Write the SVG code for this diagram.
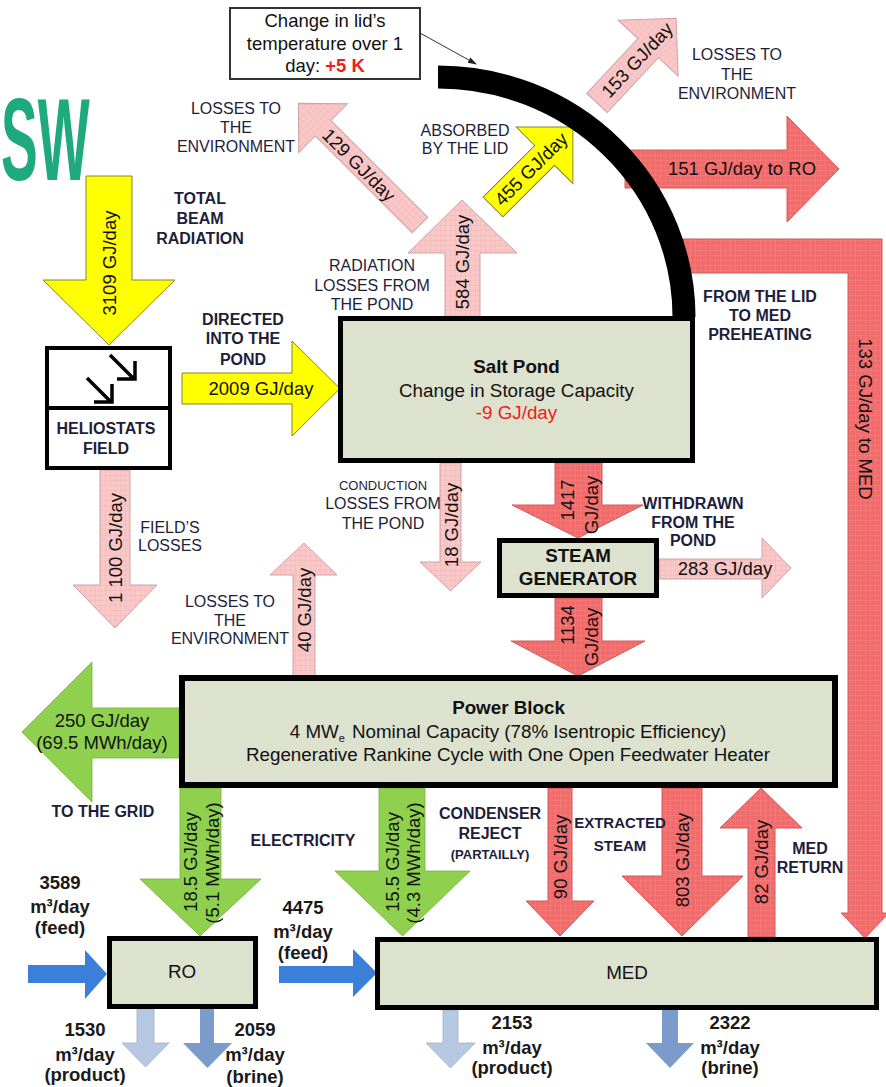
<svg xmlns="http://www.w3.org/2000/svg" width="886" height="1087" viewBox="0 0 886 1087">
<defs>
<style>
text{font-family:"Liberation Sans",Arial,sans-serif}
.pk{fill:url(#pk);stroke:#cfa3a3;stroke-width:1}
.rd{fill:url(#rd);stroke:#d05a5a;stroke-width:1}
.yl{fill:#ffff00;stroke:#85852a;stroke-width:1}
.gr{fill:#8fd14f;stroke:#76ae3e;stroke-width:.8}
.b1{fill:#3a7fd8}
.b2{fill:#b7c8e2;stroke:#9cb0cd;stroke-width:.8}
.b3{fill:#7b9bcb}
.box{fill:#dde2cf;stroke:#000}
.l{font-size:16px;fill:#1e1e3a;text-anchor:middle}
.s13{font-size:13px}
.s15{font-size:15px}
.b{font-weight:bold}
.v{font-size:18.5px;fill:#111;text-anchor:middle}
.nt{font-size:18.8px;fill:#111;text-anchor:middle}
.q{font-size:18.5px;font-weight:bold;fill:#1a1a1a;text-anchor:middle}
.red{fill:#f01c1c}
</style>
<pattern id="pk" width="5" height="5" patternUnits="userSpaceOnUse"><rect width="5" height="5" fill="#f9c8c8"/><path d="M0 .5H5M.5 0V5" stroke="#f4b5b5" stroke-width=".5"/></pattern>
<pattern id="rd" width="5" height="5" patternUnits="userSpaceOnUse"><rect width="5" height="5" fill="#f26b6b"/><path d="M0 .5H5M.5 0V5" stroke="#f58383" stroke-width=".5"/></pattern>
<marker id="ah" markerWidth="9" markerHeight="8" refX="8" refY="4" orient="auto" markerUnits="userSpaceOnUse"><path d="M0,1 L9,4 L0,7 Z" fill="#222"/></marker>
</defs>
<rect width="886" height="1087" fill="#fff"/>
<text transform="translate(1,180) scale(0.47,1)" font-family="Liberation Serif" font-weight="bold" font-size="117" fill="#1faa7d">SW</text>

<g id="connectors">
<line x1="420" y1="33" x2="476" y2="64" stroke="#333" stroke-width="1" marker-end="url(#ah)"/>
<polygon class="yl" points="86,176 132,176 132,280 175,280 109,345 43,280 86,280"/>
<polygon class="pk" points="100,470 130,470 130,585 157,585 115,628 73,585 100,585"/>
<polygon class="yl" points="182,373 292,373 292,341 340,388.5 292,436 292,404 182,404"/>
<polygon class="pk" points="445,318 445,253 408,253 462,200 517,253 480,253 480,318"/>
<polygon class="pk" transform="translate(420,225) rotate(-135)" points="0,-11 137,-11 137,-34.5 172,0 137,34.5 137,11 0,11"/>
<polygon class="yl" transform="translate(493,207) rotate(-45)" points="0,-14 73,-14 73,-40 113,0 73,40 73,14 0,14"/>
<polygon class="pk" transform="translate(597,103) rotate(-47)" points="0,-14 75,-14 75,-41 116,0 75,41 75,14 0,14"/>
<polygon class="rd" points="625,150 787,150 787,116 839,169 787,222 787,188 625,188"/>
<polygon class="rd" points="676,239 882,239 882,913 889,913 865,938 841,913 848,913 848,273 676,273"/>
<polygon class="pk" points="440,463 461,463 461,562 481,562 450.5,591 420,562 440,562"/>
<polygon class="rd" points="555,463 602,463 602,505 643,505 578,538 512,505 555,505"/>
<polygon class="pk" points="659,559 762,559 762,538 791,568 762,598 762,579 659,579"/>
<polygon class="rd" points="555,598 602,598 602,641 645,641 578,676 511,641 555,641"/>
<polygon class="pk" points="293,676 293,575 270,575 304,543 337,575 315,575 315,676"/>
<polygon class="gr" points="179,708 92,708 92,662 22,732 92,802 92,758 179,758"/>
<polygon class="gr" points="180,788 221,788 221,879 261,879 200,936 140,879 180,879"/>
<polygon class="gr" points="379,788 425,788 425,871 470,871 402.5,936 335,871 379,871"/>
<polygon class="rd" points="548,788 572,788 572,901 594,901 560,936 526,901 548,901"/>
<polygon class="rd" points="662,788 702,788 702,876 743,876 682,936 622,876 662,876"/>
<polygon class="rd" points="748,937 748,828 720,828 761,788 802,828 775,828 775,937"/>
<polygon class="b1" points="28,965 85,965 85,950 107,974 85,999 85,983 28,983"/>
<polygon class="b1" points="279,966 353,966 353,949 377,973 353,997 353,983 279,983"/>
<polygon class="b2" points="137,1009 154,1009 154,1043 169,1043 145.5,1067 122,1043 137,1043"/>
<polygon class="b3" points="200,1009 214,1009 214,1043 232,1043 207.5,1068 183,1043 200,1043"/>
<polygon class="b2" points="443,1010 458,1010 458,1043 475,1043 450.5,1068 426,1043 443,1043"/>
<polygon class="b3" points="662,1010 678,1010 678,1043 694,1043 670,1068 646,1043 662,1043"/>

<text class="v" transform="translate(109,263) rotate(-90)" y="6.5">3109 GJ/day</text>
<text class="v" transform="translate(115,548) rotate(-90)" y="6.5">1 100 GJ/day</text>
<text class="v" x="261" y="395">2009 GJ/day</text>
<text class="v" transform="translate(462,262) rotate(-90)" y="6.5">584 GJ/day</text>
<text class="v" transform="translate(359,165) rotate(45)" y="6.5">129 GJ/day</text>
<text class="v" transform="translate(531,169) rotate(-45)" y="6.5">455 GJ/day</text>
<text class="v" transform="translate(637,60) rotate(-47)" y="6.5">153 GJ/day</text>
<text class="v" x="742" y="175">151 GJ/day to RO</text>
<text class="v" transform="translate(865,419) rotate(90)" y="6.5">133 GJ/day to MED</text>
<text class="v" transform="translate(451,525) rotate(-90)" y="6.5">18 GJ/day</text>
<text class="v" transform="translate(567,500) rotate(-90)" y="6.5">1417</text>
<text class="v" transform="translate(591,505) rotate(-90)" y="6.5">GJ/day</text>
<text class="v" x="725" y="575">283 GJ/day</text>
<text class="v" transform="translate(567,625) rotate(-90)" y="6.5">1134</text>
<text class="v" transform="translate(591,637) rotate(-90)" y="6.5">GJ/day</text>
<text class="v" transform="translate(304,610) rotate(-90)" y="6.5">40 GJ/day</text>
<text class="v" x="102" y="727">250 GJ/day</text>
<text class="v" x="102" y="749">(69.5 MWh/day)</text>
<text class="v" transform="translate(190,862) rotate(-90)" y="6.5">18.5 GJ/day</text>
<text class="v" transform="translate(212,863) rotate(-90)" y="6.5">(5.1 MWh/day)</text>
<text class="v" transform="translate(392,862) rotate(-90)" y="6.5">15.5 GJ/day</text>
<text class="v" transform="translate(413,863) rotate(-90)" y="6.5">(4.3 MWh/day)</text>
<text class="v" transform="translate(560,857) rotate(-90)" y="6.5">90 GJ/day</text>
<text class="v" transform="translate(682,860) rotate(-90)" y="6.5">803 GJ/day</text>
<text class="v" transform="translate(761,862) rotate(-90)" y="6.5">82 GJ/day</text>
</g>

<g id="lid">
<path d="M438 77 A246 240 0 0 1 684 317" fill="none" stroke="#000" stroke-width="23"/>
</g>

<g id="lid-temp">
<rect x="230" y="8" width="190" height="71" fill="#fff" stroke="#333" stroke-width="2"/>
<text class="v" x="325" y="27">Change in lid’s</text>
<text class="v" x="325" y="50">temperature over 1</text>
<text class="v" x="325" y="72">day: <tspan class="red" font-weight="bold">+5 K</tspan></text>
</g>

<g id="heliostats">
<rect x="47" y="348" width="123" height="120" fill="#fff" stroke="#000" stroke-width="4"/>
<line x1="47" y1="408" x2="170" y2="408" stroke="#000" stroke-width="4"/>
<g stroke="#000" stroke-width="3.5" fill="none">
<path d="M110 355 L134 379 M117 379 H135 V361"/>
<path d="M87 378 L111 402 M94 402 H112 V384"/>
</g>
<text class="l b" x="106" y="434">HELIOSTATS</text>
<text class="l b" x="106" y="454">FIELD</text>
</g>

<g id="salt-pond">
<rect class="box" x="340.5" y="318.5" width="352" height="142" stroke-width="5"/>
<text class="nt b" x="516.5" y="373">Salt Pond</text>
<text class="nt" x="516.5" y="397">Change in Storage Capacity</text>
<text class="nt red" x="516.5" y="419">-9 GJ/day</text>
</g>

<g id="steam-generator">
<rect class="box" x="499.5" y="540.5" width="157" height="55" stroke-width="5"/>
<text class="nt b" x="578" y="562">STEAM</text>
<text class="nt b" x="578" y="585">GENERATOR</text>
</g>

<g id="power-block">
<rect class="box" x="182" y="678" width="653" height="107" stroke-width="6"/>
<text class="nt b" x="508.5" y="714">Power Block</text>
<text class="nt" x="508" y="738">4 MW<tspan font-size="11" dy="4">e</tspan><tspan dy="-4" dx="7">Nominal Capacity (78% Isentropic Efficiency)</tspan></text>
<text class="nt" x="508" y="761">Regenerative Rankine Cycle with One Open Feedwater Heater</text>
</g>

<g id="ro">
<rect class="box" x="109.5" y="938.5" width="146" height="68" stroke-width="5"/>
<text class="nt" x="182" y="978">RO</text>
</g>

<g id="med">
<rect class="box" x="377.5" y="939.5" width="499" height="68" stroke-width="5"/>
<text class="nt" x="627" y="979">MED</text>
</g>

<g id="labels">
<text class="l" x="236" y="114">LOSSES TO</text>
<text class="l" x="236" y="133">THE</text>
<text class="l" x="236" y="152">ENVIRONMENT</text>
<text class="l b" x="200" y="204">TOTAL</text>
<text class="l b" x="200" y="224">BEAM</text>
<text class="l b" x="200" y="244">RADIATION</text>
<text class="l" x="372" y="271">RADIATION</text>
<text class="l" x="372" y="291">LOSSES FROM</text>
<text class="l" x="372" y="310">THE POND</text>
<text class="l" x="465" y="136">ABSORBED</text>
<text class="l" x="465" y="154">BY THE LID</text>
<text class="l" x="737" y="60">LOSSES TO</text>
<text class="l" x="737" y="80">THE</text>
<text class="l" x="737" y="99">ENVIRONMENT</text>
<text class="l b" x="243" y="325">DIRECTED</text>
<text class="l b" x="243" y="344">INTO THE</text>
<text class="l b" x="243" y="365">POND</text>
<text class="l b" x="760" y="302">FROM THE LID</text>
<text class="l b" x="760" y="321">TO MED</text>
<text class="l b" x="760" y="340">PREHEATING</text>
<text class="l" x="170" y="533">FIELD’S</text>
<text class="l" x="170" y="551">LOSSES</text>
<text class="l s13" x="383" y="490">CONDUCTION</text>
<text class="l" x="383" y="509">LOSSES FROM</text>
<text class="l" x="383" y="529">THE POND</text>
<text class="l b" x="693" y="509">WITHDRAWN</text>
<text class="l b" x="693" y="528">FROM THE</text>
<text class="l b" x="693" y="546">POND</text>
<text class="l" x="230" y="607">LOSSES TO</text>
<text class="l" x="230" y="626">THE</text>
<text class="l" x="230" y="644">ENVIRONMENT</text>
<text class="l b" x="103" y="817">TO THE GRID</text>
<text class="l b" x="303" y="846">ELECTRICITY</text>
<text class="l b" x="490" y="819">CONDENSER</text>
<text class="l b" x="490" y="839">REJECT</text>
<text class="l b s13" x="490" y="859">(PARTAILLY)</text>
<text class="l b s15" x="620" y="828">EXTRACTED</text>
<text class="l b s15" x="620" y="851">STEAM</text>
<text class="l b" x="810" y="854">MED</text>
<text class="l b" x="810" y="873">RETURN</text>
<text class="q" x="60" y="889">3589</text>
<text class="q" x="60" y="913">m³/day</text>
<text class="q" x="60" y="934">(feed)</text>
<text class="q" x="303" y="914">4475</text>
<text class="q" x="303" y="938">m³/day</text>
<text class="q" x="303" y="959">(feed)</text>
<text class="q" x="85" y="1036">1530</text>
<text class="q" x="85" y="1061">m³/day</text>
<text class="q" x="85" y="1081">(product)</text>
<text class="q" x="255" y="1036">2059</text>
<text class="q" x="255" y="1061">m³/day</text>
<text class="q" x="255" y="1083">(brine)</text>
<text class="q" x="512" y="1029">2153</text>
<text class="q" x="512" y="1054">m³/day</text>
<text class="q" x="512" y="1074">(product)</text>
<text class="q" x="730" y="1029">2322</text>
<text class="q" x="730" y="1054">m³/day</text>
<text class="q" x="730" y="1074">(brine)</text>
</g>
</svg>
